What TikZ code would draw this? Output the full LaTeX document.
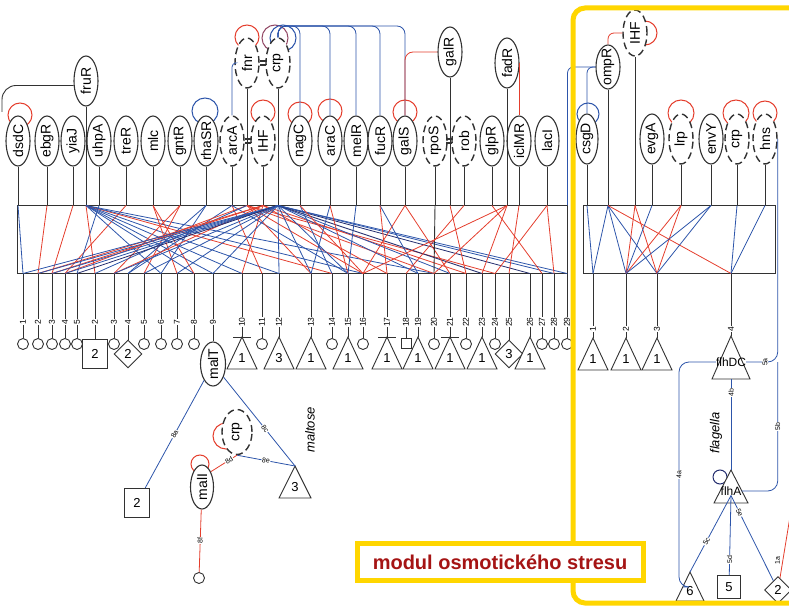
\documentclass[tikz,border=0pt]{standalone}
\usepackage{fontspec}
\setmainfont{Liberation Sans}
\usepackage{graphicx}
\usetikzlibrary{shapes.geometric,calc}

\definecolor{blu}{RGB}{45,85,170}
\definecolor{navy}{RGB}{35,45,110}
\definecolor{rdl}{RGB}{228,62,45}
\definecolor{dk}{RGB}{50,50,50}
\definecolor{ylw}{RGB}{255,214,0}
\definecolor{tred}{RGB}{165,20,20}
\newcommand{\vtext}[1]{\rotatebox{90}{#1}}

\begin{document}
\begin{tikzpicture}[x=1pt, y=-1pt,
  gene/.style={ellipse, draw=dk, line width=1.1pt, fill=white, inner xsep=-2pt, inner ysep=-6pt, minimum width=24pt, minimum height=50pt, font=\fontsize{14}{14}\selectfont},
  dgene/.style={gene, dash pattern=on 7pt off 4pt, line width=1.4pt},
  wire/.style={draw=dk, line width=0.9pt},
  bl/.style={draw=blu, line width=0.8pt},
  nv/.style={draw=navy, line width=0.8pt},
  rl/.style={draw=rdl, line width=0.8pt},
  loopb/.style={draw=blu, line width=1pt},
  loopr/.style={draw=rdl, line width=1pt},
  leaf/.style={circle, draw=dk, line width=0.9pt, fill=white, minimum size=11pt, inner sep=0pt},
  sqbox/.style={draw=dk, line width=0.9pt, fill=white, minimum width=25pt, minimum height=29pt, inner sep=0pt, font=\fontsize{13}{13}\selectfont},
  dmd/.style={diamond, draw=dk, line width=0.9pt, fill=white, minimum size=28pt, inner sep=0pt, font=\fontsize{13}{13}\selectfont},
  tri/.style={draw=dk, line width=0.9pt, fill=white},
  trilbl/.style={inner sep=0pt, font=\fontsize{13}{13}\selectfont},
  num/.style={fill=white, inner sep=0.6pt, font=\fontsize{8.5}{8.5}\selectfont},
  elbl/.style={fill=white, inner sep=0.6pt, font=\fontsize{7}{7}\selectfont}
]
  \useasboundingbox (0,0) rectangle (789,612);

  % self loops
  \foreach \x/\y/\r in {20/115/12, 263/112/12, 247/37/12, 300/114/12, 330/111/12, 405/112/12, 681/113/13, 736/113/13, 765/113/12, 645/33/12, 200/464/9, 226/436/13}
    \draw[loopr] (\x,\y) circle (\r pt);
  \draw[loopb] (205,111) circle (13pt);
  \draw[loopb] (588,114) circle (11pt);
  \draw[draw=rdl!55!blu, line width=1pt] (275,38) circle (13pt);
  \draw[loopb] (283,38) circle (13pt);

  \node[gene] (dsdC) at (18,141) {\vtext{dsdC}};
  \node[gene] (ebgR) at (47,141) {\vtext{ebgR}};
  \node[gene] (yiaJ) at (73,141) {\vtext{yiaJ}};
  \node[gene] (uhpA) at (99,141) {\vtext{uhpA}};
  \node[gene] (treR) at (126,141) {\vtext{treR}};
  \node[gene] (mlc) at (153,141) {\vtext{mlc}};
  \node[gene] (gntR) at (180,141) {\vtext{gntR}};
  \node[gene] (rhaSR) at (206,141) {\vtext{rhaSR}};
  \node[dgene] (arcA) at (232,141) {\vtext{arcA}};
  \node[dgene] (IHFa) at (263,141) {\vtext{IHF}};
  \node[gene] (nagC) at (300,141) {\vtext{nagC}};
  \node[gene] (araC) at (330,141) {\vtext{araC}};
  \node[gene] (melR) at (356,141) {\vtext{melR}};
  \node[gene] (fucR) at (380,141) {\vtext{fucR}};
  \node[gene] (galS) at (405,141) {\vtext{galS}};
  \node[dgene] (rpoS) at (435,141) {\vtext{rpoS}};
  \node[dgene] (rob) at (464,141) {\vtext{rob}};
  \node[gene] (glpR) at (492,141) {\vtext{glpR}};
  \node[gene] (iclMR) at (519,141) {\vtext{iclMR}};
  \node[gene] (lacI) at (547,141) {\vtext{lacI}};
  \node[gene] (fruR) at (86,81) {\vtext{fruR}};
  \node[dgene] (fnr) at (247,63) {\vtext{fnr}};
  \node[dgene] (crpa) at (278,63) {\vtext{crp}};
  \node[gene] (galR) at (450,52) {\vtext{galR}};
  \node[gene] (fadR) at (507,63) {\vtext{fadR}};

  \node[gene, minimum width=22pt] (csgD) at (587,139) {\vtext{csgD}};
  \node[gene] (evgA) at (652,139) {\vtext{evgA}};
  \node[dgene] (lrp) at (681,139) {\vtext{lrp}};
  \node[gene] (envY) at (711,139) {\vtext{envY}};
  \node[dgene] (crpb) at (737,139) {\vtext{crp}};
  \node[dgene] (hns) at (765,139) {\vtext{hns}};
  \node[gene, minimum height=44pt] (ompR) at (608,67) {\vtext{ompR}};
  \node[dgene, minimum height=46pt] (IHFb) at (635,33) {\vtext{IHF}};

  \foreach \x/\y in {248/141, 263/63, 449/141}
    \draw[dk, line width=1.1pt] (\x-3,\y-2) -- (\x+3,\y-2) (\x-3,\y+2) -- (\x+3,\y+2);

  \node[draw=dk, line width=1pt, minimum width=550pt, minimum height=67pt, inner sep=0pt] (boxL) at (292,239.5) {};
  \node[draw=dk, line width=1pt, minimum width=192pt, minimum height=67pt, inner sep=0pt] (boxR) at (679,239.5) {};

  % regulation among regulators
  \draw[wire, rounded corners=14pt] (fruR.200) -| (2,112);
  \draw[bl, rounded corners=4pt] (fnr.west) -| (arcA.north);
  \foreach \g in {nagC,araC,melR,fucR,galS}
    \draw[bl, rounded corners=8pt] (crpa.north) -- (crpa.north |- 0,26) -| (\g.north);
  \draw[rl, rounded corners=8pt] (galR.west) -| (galS.north);
  \draw[rl] (fadR.east) -- (fadR.east |- iclMR.north);
  \draw[bl, rounded corners=6pt] (ompR.west) -| (csgD.north);
  \draw[bl, rounded corners=6pt] (ompR.west) -| (boxL.north east);
  \draw[rl, rounded corners=6pt] (IHFb.west) -| (ompR.north);

  \foreach \g in {dsdC,ebgR,yiaJ,uhpA,treR,mlc,gntR,rhaSR,arcA,IHFa,nagC,araC,melR,fucR,galS,rpoS,rob,glpR,iclMR,lacI,fruR,fnr,crpa,galR,fadR}
    \draw[wire] (\g) -- (\g |- boxL.north);
  \foreach \g in {csgD,ompR,IHFb,evgA,lrp,envY,crpb,hns}
    \draw[wire] (\g) -- (\g |- boxR.north);

  % target operons
  \foreach \i/\x in {1/23,2/38,3/52,4/65,5/77,7/114,9/144,10/161,11/177,12/194,15/262,18/332,20/363,24/434,26/466,28/495,31/542,32/554,33/567}
    \node[leaf] (o\i) at (\x,344) {};
  \node[sqbox] (o6) at (95,354) {2};
  \node[dmd] (o8) at (128,354) {2};
  \node[gene, minimum width=25pt, minimum height=44pt] (o13) at (213,364) {\vtext{malT}};
  \node[draw=dk, line width=0.9pt, fill=white, minimum size=10pt, inner sep=0pt] (o22) at (406,343) {};
  \node[dmd] (o29) at (509,354) {3};
  \foreach \i/\x/\t in {14/242/1, 16/279/3, 17/311/1, 19/348/1, 21/387/1, 23/418/1, 25/450/1, 27/482/1, 30/530/1} {
    \draw[tri] (\x,337) -- ++(15,32) -- ++(-30,0) -- cycle;
    \node[trilbl] (ol\i) at (\x,358) {\t};
    \coordinate (o\i) at (\x,337);
  }
  \foreach \i/\x in {1/593, 2/626, 3/657} {
    \draw[tri] (\x,338) -- ++(15,32) -- ++(-30,0) -- cycle;
    \node[trilbl] (pl\i) at (\x,359) {1};
    \coordinate (p\i) at (\x,338);
  }
  \draw[tri] (731,336) -- (750,379) -- (712,379) -- cycle;
  \coordinate (p4) at (731,336);
  \coordinate (flhDCb) at (731,379);
  \node[inner sep=0pt, font=\fontsize{12}{12}\selectfont] (flhDC) at (731,362) {flhDC};

  % wiring inside the boxes
  \foreach \s/\t/\c in {dsdC/1/bl, ebgR/2/rl, yiaJ/3/rl, treR/4/rl, uhpA/5/bl,
      fruR/6/rl, fruR/10/bl, fruR/12/bl, fruR/13/bl, fruR/14/bl, fruR/16/bl, fruR/18/rl, fruR/20/bl, fruR/24/bl,
      mlc/12/rl, mlc/11/rl, gntR/9/rl, gntR/7/rl, rhaSR/10/bl, rhaSR/8/bl,
      arcA/8/bl, arcA/15/rl, arcA/19/bl,
      fnr/4/rl, fnr/6/bl, fnr/17/rl, fnr/20/rl, fnr/24/rl, fnr/28/rl,
      IHFa/2/rl, IHFa/3/rl, IHFa/7/rl, IHFa/21/rl, IHFa/26/rl, IHFa/14/rl,
      crpa/1/bl, crpa/2/bl, crpa/3/bl, crpa/4/bl, crpa/5/nv, crpa/7/bl, crpa/9/bl, crpa/11/bl, crpa/13/bl,
      crpa/16/bl, crpa/17/bl, crpa/19/bl, crpa/23/bl, crpa/25/bl, crpa/27/nv, crpa/30/nv, crpa/32/bl, crpa/33/bl,
      nagC/18/bl, nagC/20/rl, araC/17/bl, araC/19/rl, melR/19/bl, fucR/23/bl, fucR/21/rl, galS/20/rl, galS/25/rl,
      rpoS/24/wire, rob/22/rl, galR/26/rl, glpR/31/rl, fadR/20/rl, fadR/24/rl, fadR/27/rl, iclMR/29/rl, lacI/28/rl, lacI/32/rl}
    \draw[\c] (boxL.north -| \s) -- (boxL.south -| o\t);
  \foreach \s/\t/\c in {csgD/1/bl, ompR/1/bl, ompR/2/bl, ompR/3/bl, ompR/4/rl, IHFb/2/rl, IHFb/3/rl,
      evgA/2/bl, lrp/2/rl, lrp/3/rl, envY/2/bl, envY/3/bl, crpb/4/bl, hns/4/bl}
    \draw[\c] (boxR.north -| \s) -- (boxR.south -| p\t);

  \foreach \i in {1,...,33}
    \draw[wire] (boxL.south -| o\i) -- (o\i);
  \foreach \i in {1,...,4}
    \draw[wire] (boxR.south -| p\i) -- (p\i);
  \foreach \i in {14,21,25}
    \draw[wire] ([xshift=-9pt]o\i) -- ([xshift=9pt]o\i);
  \foreach \i/\l in {1/1,2/2,3/3,4/4,5/5,6/2,7/3,8/4,9/5,10/6,11/7,12/8,13/9,14/10,15/11,16/12,17/13,18/14,19/15,20/16,21/17,22/18,23/19,24/20,25/21,26/22,27/23,28/24,29/25,30/26,31/27,32/28,33/29}
    \node[num] (n\i) at (o\i |- 0,322) {\vtext{\l}};
  \foreach \i in {1,...,4}
    \node[num] (m\i) at (p\i |- 0,329) {\vtext{\i}};

  % maltose
  \node[dgene, minimum width=30pt, minimum height=45pt] (crpm) at (237,432) {\vtext{crp}};
  \node[gene, minimum width=23pt, minimum height=44pt] (malI) at (202,487) {\vtext{malI}};
  \node[sqbox] (sq2) at (137,503) {2};
  \draw[tri] (295,466) -- (311,498) -- (279,498) -- cycle;
  \coordinate (t3) at (295,466);
  \node[trilbl] (three) at (295,487) {3};
  \node[leaf] (endc) at (199,578) {};
  \node[font=\itshape\fontsize{13}{13}\selectfont] (malt) at (310,430) {\vtext{maltose}};
  \draw[bl] (o13) -- node[elbl, sloped]{8a} (sq2);
  \draw[bl] (o13) -- node[elbl, sloped, pos=0.58]{8c} (t3);
  \draw[bl] (crpm.south) -- node[elbl, sloped]{8e} (t3);
  \draw[rl] (crpm.south) -- node[elbl, sloped, pos=0.3]{8d} (malI.60);
  \draw[rl] (malI) -- node[elbl]{\vtext{8f}} (endc);

  % flagella
  \draw[draw=navy, line width=1pt] (720,477) circle (7pt);
  \draw[tri] (731,470) -- (748,503) -- (714,503) -- cycle;
  \coordinate (flhAt) at (731,470);
  \node[inner sep=0pt, font=\fontsize{12}{12}\selectfont] (flhA) at (731,491) {flhA};
  \node[font=\itshape\fontsize{13}{13}\selectfont] (flag) at (716,433) {\vtext{flagella}};
  \draw[tri] (690,572) -- (704,601) -- (676,601) -- cycle;
  \coordinate (t6) at (690,572);
  \coordinate (t6w) at (683,587);
  \node[trilbl] (six) at (690,591) {6};
  \node[sqbox, minimum width=23pt, minimum height=23pt] (sq5) at (729,587) {5};
  \node[dmd, minimum size=27pt] (dia2) at (778,590) {2};
  \coordinate (offr) at (796,480);
  \coordinate (rr) at (hns.east |- flhDC.east);

  \draw[bl] (flhDCb) -- node[elbl, pos=0.15]{\vtext{4b}} (flhAt);
  \draw[bl, rounded corners=10pt] (flhDC.west) -| node[elbl, pos=0.75]{\vtext{4a}} (t6w -| 679,0) -- (t6w);
  \draw[bl, rounded corners=10pt] (hns.east) |- node[elbl, pos=0.7]{\vtext{5a}} (flhDC.east);
  \draw[bl, rounded corners=10pt] (flhA.east) -| node[elbl, pos=0.75]{\vtext{5b}} (rr);
  \draw[bl] (flhA.south) -- node[elbl, sloped, pos=0.6]{5c} (t6);
  \draw[bl] (flhA.south) -- node[elbl, pos=0.8]{\vtext{5d}} (sq5);
  \draw[bl] (flhA.south) -- node[elbl, sloped, pos=0.2]{5e} (dia2);
  \draw[rl] (offr) -- node[elbl, pos=0.82, left=2pt]{\vtext{1a}} (dia2);

  % module frame
  \draw[ylw, line width=5pt, rounded corners=12pt] (573,8) rectangle (820,603);
  \node[draw=ylw, line width=5pt, fill=white, minimum width=286pt, minimum height=37pt, text=tred, font=\bfseries\fontsize{20}{20}\selectfont] (modul) at (500,562) {modul osmotického stresu};
\end{tikzpicture}
\end{document}
